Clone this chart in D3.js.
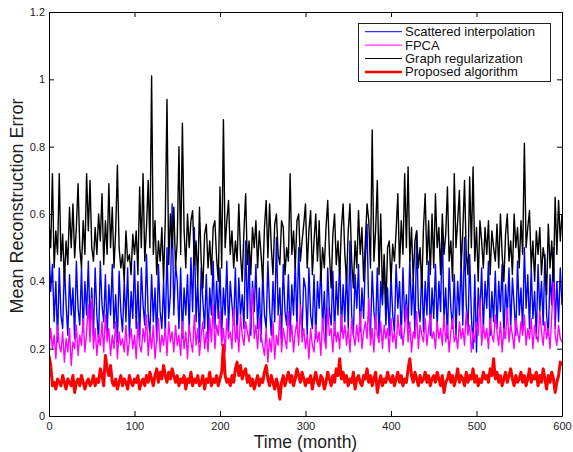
<!DOCTYPE html>
<html>
<head>
<meta charset="utf-8">
<script src="https://cdn.jsdelivr.net/npm/d3@7"></script>
<style>
  body { margin: 0; background: #fff; }
  svg { font-family: "Liberation Sans", Arial, Helvetica, sans-serif; }
</style>
</head>
<body>
<svg id="chart" width="573" height="452"></svg>
<script>
// one value every 2 months, 0..600
var scattered = [
  0.50,0.37,0.45,0.28,0.40,0.22,0.44,0.30,0.26,0.45,0.33,0.24,0.42,0.30,0.38,0.23,0.46,0.32,0.27,0.44,0.25,0.40,0.30,0.46,0.27,
  0.38,0.24,0.44,0.30,0.22,0.46,0.33,0.28,0.42,0.24,0.39,0.30,0.45,0.26,0.36,0.22,0.43,0.31,0.25,0.40,0.28,0.44,0.23,0.37,0.29,
  0.46,0.26,0.40,0.22,0.44,0.33,0.27,0.48,0.30,0.24,0.42,0.28,0.38,0.22,0.45,0.31,0.26,0.40,0.24,0.50,0.29,0.36,0.63,0.30,0.45,
  0.40,0.26,0.44,0.23,0.38,0.30,0.42,0.25,0.47,0.31,0.56,0.28,0.40,0.22,0.44,0.34,0.26,0.42,0.23,0.38,0.30,0.46,0.26,0.40,0.29,
  0.44,0.24,0.38,0.30,0.46,0.25,0.40,0.33,0.27,0.44,0.23,0.41,0.30,0.36,0.26,0.52,0.29,0.48,0.24,0.40,0.31,0.45,0.26,0.38,0.22,
  0.43,0.30,0.26,0.46,0.32,0.24,0.40,0.28,0.53,0.30,0.38,0.23,0.45,0.31,0.27,0.42,0.24,0.39,0.30,0.46,0.26,0.50,0.33,0.25,0.41,
  0.38,0.24,0.44,0.30,0.26,0.42,0.23,0.40,0.32,0.45,0.26,0.37,0.22,0.44,0.31,0.27,0.43,0.24,0.40,0.30,0.47,0.25,0.39,0.28,0.44,
  0.26,0.52,0.30,0.24,0.42,0.32,0.45,0.25,0.38,0.29,0.46,0.57,0.30,0.24,0.43,0.31,0.26,0.44,0.22,0.40,0.33,0.46,0.27,0.38,0.24,
  0.42,0.30,0.25,0.45,0.32,0.40,0.23,0.44,0.28,0.36,0.26,0.47,0.30,0.41,0.24,0.55,0.32,0.28,0.44,0.25,0.40,0.30,0.46,0.24,0.38,
  0.29,0.45,0.26,0.40,0.31,0.56,0.28,0.38,0.23,0.44,0.32,0.26,0.42,0.24,0.40,0.30,0.46,0.27,0.53,0.33,0.25,0.48,0.30,0.20,0.42,
  0.19,0.38,0.30,0.44,0.25,0.40,0.32,0.46,0.24,0.37,0.28,0.43,0.26,0.40,0.31,0.45,0.23,0.39,0.30,0.44,0.26,0.41,0.33,0.24,0.46,
  0.30,0.38,0.25,0.50,0.32,0.42,0.26,0.44,0.29,0.37,0.23,0.45,0.31,0.40,0.27,0.48,0.30,0.24,0.42,0.33,0.50,0.26,0.40,0.28,0.44,0.33
];
var fpca = [
  0.18,0.26,0.20,0.24,0.17,0.27,0.21,0.19,0.25,0.16,0.23,0.19,0.26,0.15,0.22,0.20,0.27,0.18,0.24,0.21,0.29,0.19,0.25,0.33,0.22,
  0.35,0.20,0.26,0.18,0.24,0.21,0.28,0.19,0.30,0.22,0.26,0.18,0.24,0.20,0.28,0.17,0.25,0.21,0.23,0.19,0.27,0.18,0.22,0.26,0.20,
  0.24,0.17,0.28,0.21,0.19,0.26,0.22,0.30,0.18,0.25,0.20,0.27,0.17,0.23,0.29,0.19,0.24,0.21,0.26,0.18,0.28,0.22,0.25,0.19,0.27,
  0.21,0.24,0.18,0.28,0.20,0.25,0.17,0.27,0.22,0.19,0.30,0.21,0.26,0.18,0.24,0.28,0.20,0.25,0.19,0.29,0.22,0.33,0.20,0.27,0.24,
  0.31,0.21,0.26,0.19,0.29,0.23,0.25,0.20,0.32,0.22,0.27,0.19,0.30,0.24,0.21,0.28,0.25,0.22,0.30,0.38,0.23,0.27,0.20,0.29,0.24,
  0.21,0.18,0.26,0.16,0.23,0.19,0.28,0.17,0.24,0.21,0.30,0.19,0.26,0.23,0.20,0.31,0.22,0.27,0.19,0.25,0.28,0.21,0.33,0.22,0.26,
  0.20,0.24,0.17,0.26,0.21,0.19,0.27,0.22,0.25,0.18,0.29,0.23,0.20,0.32,0.24,0.26,0.19,0.28,0.22,0.25,0.20,0.30,0.23,0.27,0.21,
  0.26,0.19,0.29,0.24,0.21,0.27,0.22,0.31,0.20,0.25,0.28,0.23,0.35,0.21,0.26,0.19,0.30,0.24,0.22,0.28,0.20,0.27,0.23,0.26,0.19,
  0.29,0.22,0.25,0.20,0.30,0.24,0.27,0.21,0.26,0.33,0.22,0.28,0.19,0.25,0.23,0.31,0.20,0.27,0.24,0.22,0.29,0.21,0.26,0.30,0.23,
  0.25,0.20,0.28,0.23,0.26,0.21,0.30,0.22,0.27,0.19,0.25,0.29,0.22,0.24,0.20,0.28,0.23,0.26,0.21,0.31,0.24,0.27,0.19,0.25,0.22,
  0.28,0.24,0.35,0.21,0.27,0.23,0.26,0.20,0.29,0.24,0.22,0.30,0.25,0.21,0.28,0.19,0.26,0.23,0.32,0.22,0.27,0.24,0.20,0.29,0.25,
  0.22,0.28,0.24,0.30,0.21,0.26,0.23,0.29,0.20,0.27,0.24,0.22,0.31,0.25,0.21,0.28,0.23,0.26,0.20,0.30,0.40,0.24,0.21,0.27,0.23,0.22
];
var graphReg = [
  0.58,0.50,0.72,0.44,0.55,0.48,0.72,0.46,0.54,0.40,0.52,0.45,0.62,0.50,0.63,0.47,0.56,0.69,0.50,0.44,0.58,0.48,0.72,0.55,0.70,
  0.50,0.46,0.56,0.48,0.60,0.52,0.66,0.45,0.58,0.48,0.69,0.50,0.62,0.44,0.55,0.745,0.50,0.44,0.48,0.40,0.55,0.46,0.48,0.42,0.54,
  0.48,0.55,0.42,0.68,0.50,0.72,0.46,0.56,0.70,0.50,1.01,0.48,0.58,0.42,0.52,0.46,0.56,0.40,0.58,0.94,0.45,0.60,0.50,0.62,0.44,
  0.52,0.80,0.48,0.87,0.55,0.44,0.60,0.50,0.58,0.61,0.45,0.52,0.40,0.62,0.46,0.38,0.54,0.57,0.44,0.52,0.42,0.56,0.58,0.47,0.40,
  0.68,0.44,0.88,0.50,0.58,0.64,0.48,0.55,0.44,0.52,0.46,0.63,0.48,0.40,0.55,0.66,0.45,0.52,0.42,0.56,0.50,0.58,0.44,0.55,0.48,
  0.40,0.56,0.64,0.47,0.63,0.50,0.42,0.57,0.60,0.48,0.45,0.58,0.56,0.42,0.50,0.46,0.72,0.48,0.55,0.44,0.58,0.60,0.46,0.52,0.57,
  0.63,0.44,0.55,0.61,0.42,0.52,0.60,0.46,0.58,0.40,0.50,0.44,0.56,0.64,0.48,0.38,0.54,0.60,0.45,0.52,0.42,0.56,0.63,0.48,0.40,
  0.55,0.63,0.46,0.38,0.52,0.44,0.61,0.48,0.56,0.40,0.52,0.63,0.58,0.44,0.85,0.46,0.55,0.70,0.42,0.60,0.36,0.48,0.32,0.50,0.52,
  0.40,0.51,0.46,0.55,0.66,0.44,0.58,0.48,0.72,0.50,0.74,0.46,0.56,0.40,0.52,0.55,0.44,0.50,0.38,0.56,0.66,0.45,0.58,0.42,0.60,
  0.44,0.66,0.50,0.56,0.42,0.60,0.48,0.54,0.68,0.46,0.52,0.40,0.72,0.50,0.58,0.67,0.44,0.55,0.70,0.48,0.42,0.71,0.50,0.74,0.46,
  0.56,0.40,0.58,0.52,0.44,0.56,0.48,0.58,0.42,0.55,0.50,0.46,0.57,0.44,0.60,0.48,0.40,0.54,0.60,0.46,0.52,0.42,0.60,0.50,0.56,
  0.44,0.58,0.48,0.81,0.50,0.56,0.61,0.44,0.52,0.40,0.55,0.48,0.56,0.42,0.50,0.46,0.36,0.57,0.44,0.52,0.40,0.65,0.48,0.64,0.52,0.60
];
var proposed = [
  0.18,0.15,0.09,0.10,0.08,0.11,0.10,0.09,0.12,0.10,0.08,0.11,0.10,0.09,0.12,0.07,0.10,0.11,0.09,0.12,0.10,0.08,0.10,0.11,0.09,
  0.10,0.12,0.09,0.11,0.10,0.14,0.12,0.09,0.18,0.14,0.12,0.15,0.10,0.09,0.11,0.08,0.10,0.12,0.09,0.11,0.10,0.08,0.12,0.10,0.09,
  0.11,0.10,0.12,0.08,0.10,0.11,0.09,0.12,0.10,0.13,0.11,0.09,0.12,0.14,0.10,0.13,0.11,0.15,0.12,0.10,0.13,0.11,0.14,0.12,0.10,
  0.12,0.09,0.11,0.10,0.12,0.08,0.11,0.10,0.13,0.09,0.11,0.10,0.12,0.09,0.10,0.12,0.08,0.11,0.10,0.13,0.09,0.11,0.10,0.12,0.09,
  0.11,0.13,0.21,0.12,0.10,0.11,0.09,0.12,0.10,0.14,0.16,0.12,0.15,0.11,0.13,0.14,0.10,0.12,0.09,0.11,0.08,0.10,0.12,0.09,0.11,
  0.10,0.13,0.15,0.11,0.09,0.12,0.10,0.08,0.11,0.09,0.05,0.10,0.12,0.09,0.11,0.13,0.10,0.12,0.09,0.11,0.14,0.12,0.10,0.13,0.11,
  0.09,0.11,0.10,0.12,0.08,0.11,0.13,0.10,0.09,0.12,0.11,0.08,0.10,0.13,0.11,0.09,0.12,0.10,0.14,0.12,0.17,0.11,0.13,0.10,0.12,
  0.09,0.11,0.10,0.13,0.08,0.11,0.12,0.10,0.09,0.12,0.11,0.14,0.10,0.12,0.09,0.11,0.13,0.07,0.10,0.12,0.09,0.11,0.10,0.13,0.11,
  0.10,0.12,0.09,0.11,0.13,0.10,0.12,0.09,0.11,0.10,0.14,0.17,0.12,0.10,0.13,0.11,0.09,0.12,0.10,0.11,0.13,0.10,0.12,0.09,0.11,
  0.12,0.10,0.13,0.11,0.09,0.12,0.07,0.10,0.11,0.13,0.10,0.12,0.09,0.11,0.14,0.10,0.12,0.11,0.09,0.13,0.10,0.12,0.11,0.14,0.10,
  0.12,0.09,0.11,0.10,0.13,0.11,0.12,0.10,0.14,0.12,0.17,0.11,0.13,0.10,0.12,0.09,0.11,0.13,0.10,0.12,0.14,0.11,0.09,0.12,0.10,
  0.11,0.13,0.10,0.12,0.09,0.11,0.14,0.10,0.12,0.11,0.13,0.09,0.12,0.10,0.14,0.11,0.08,0.12,0.10,0.13,0.11,0.07,0.10,0.12,0.16,0.15
];

var seriesNames = ["Scattered interpolation", "FPCA", "Graph regularization", "Proposed algorithm"];
var seriesColors = ["#0000ff", "#ff00ff", "#000000", "#ff0000"];
var seriesWidths = [1.4, 1.4, 1.4, 3];
var legendWidths = [1, 1, 1, 2.5];
var xTicks = [0, 100, 200, 300, 400, 500, 600];
var yTicks = [0, 0.2, 0.4, 0.6, 0.8, 1, 1.2];

var series = [scattered, fpca, graphReg, proposed].map(function(v, i) {
  return { name: seriesNames[i], values: v, color: seriesColors[i], width: seriesWidths[i], lw: legendWidths[i] };
});

var svg = d3.select("#chart"),
    margin = { top: 12, right: 11, bottom: 36, left: 49 },
    width = 573 - margin.left - margin.right,
    height = 452 - margin.top - margin.bottom;

var x = d3.scaleLinear().domain([0, 600]).range([0, width]);
var y = d3.scaleLinear().domain([0, 1.2]).range([height, 0]);

var g = svg.append("g").attr("transform", "translate(" + margin.left + "," + margin.top + ")");

g.append("defs").append("clipPath").attr("id", "clip")
  .append("rect").attr("width", width).attr("height", height);

var plot = g.append("g").attr("clip-path", "url(#clip)");

series.forEach(function(s) {
  var step = 600 / (s.values.length - 1);
  var line = d3.line()
    .x(function(d, i) { return x(i * step); })
    .y(function(d) { return y(d); });
  plot.append("path")
    .datum(s.values)
    .attr("fill", "none")
    .attr("stroke", s.color)
    .attr("stroke-width", s.width)
    .attr("stroke-linejoin", "round")
    .attr("d", line);
});

// axes, ticks pointing inward on all four sides
function styleAxis(sel) {
  sel.selectAll("path").attr("stroke", "#000");
  sel.selectAll("line").attr("stroke", "#000");
  sel.selectAll("text").attr("fill", "#222").style("font-size", "11px");
}

g.append("g").attr("transform", "translate(0," + height + ")")
  .call(d3.axisBottom(x).tickValues(xTicks).tickSizeInner(-5).tickSizeOuter(0).tickPadding(6))
  .call(styleAxis);
g.append("g")
  .call(d3.axisTop(x).tickValues(xTicks).tickSizeInner(-5).tickSizeOuter(0).tickFormat(""))
  .call(styleAxis);
g.append("g")
  .call(d3.axisLeft(y).tickValues(yTicks).tickSizeInner(-5).tickSizeOuter(0).tickPadding(4)
    .tickFormat(function(d) { return d3.format("~g")(d); }))
  .call(styleAxis);
g.append("g").attr("transform", "translate(" + width + ",0)")
  .call(d3.axisRight(y).tickValues(yTicks).tickSizeInner(-5).tickSizeOuter(0).tickFormat(""))
  .call(styleAxis);

// axis titles
svg.append("text")
  .attr("x", margin.left + width / 2)
  .attr("y", 448)
  .attr("text-anchor", "middle")
  .style("font-size", "17.5px")
  .attr("fill", "#222")
  .text("Time (month)");

svg.append("text")
  .attr("transform", "translate(23,206) rotate(-90)")
  .attr("text-anchor", "middle")
  .style("font-size", "18px")
  .attr("fill", "#222")
  .text("Mean Reconstruction Error");

// legend
var legend = svg.append("g").attr("transform", "translate(358,23)");
legend.append("rect")
  .attr("x", 0.5).attr("y", 0.5)
  .attr("width", 192).attr("height", 58)
  .attr("fill", "#fff").attr("stroke", "#222");

var entry = legend.selectAll("g.entry")
  .data(series)
  .enter().append("g")
  .attr("class", "entry")
  .attr("transform", function(d, i) { return "translate(0," + (8.7 + i * 13.4) + ")"; });

entry.append("line")
  .attr("x1", 7).attr("x2", 44)
  .attr("stroke", function(d) { return d.color; })
  .attr("stroke-width", function(d) { return d.lw; });

entry.append("text")
  .attr("x", 47).attr("y", 4.5)
  .style("font-size", "13px")
  .attr("fill", "#111")
  .text(function(d) { return d.name; });
</script>
</body>
</html>
